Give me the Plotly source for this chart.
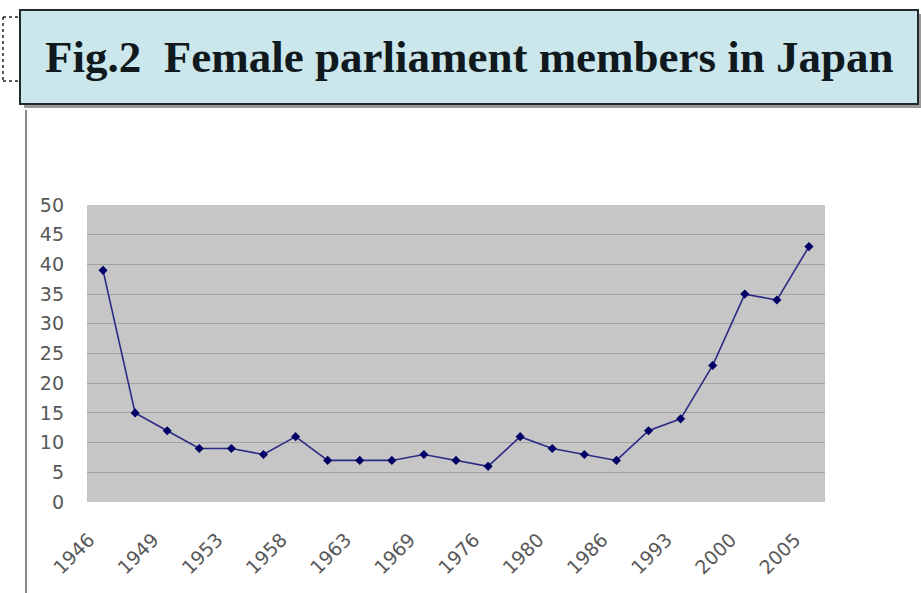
import plotly.graph_objects as go

# Election years (House of Representatives) and number of female members elected
years = ["1946", "1947", "1949", "1952", "1953", "1955", "1958", "1960", "1963",
         "1967", "1969", "1972", "1976", "1979", "1980", "1983", "1986", "1990",
         "1993", "1996", "2000", "2003", "2005"]
members = [39, 15, 12, 9, 9, 8, 11, 7, 7, 7, 8, 7, 6, 11, 9, 8, 7, 12, 14, 23, 35, 34, 43]
shown_labels = years[::2]
y_ticks = list(range(0, 51, 5))

W, H = 921, 593
L, R, T, B = 87, 825, 205, 502


def fx(x):
    return (x - L) / (R - L)


def fy(y):
    return (B - y) / (B - T)


tick_font = dict(family="DejaVu Sans, Noto Sans CJK KR", size=19, color="#585858")

fig = go.Figure()
fig.add_trace(go.Scatter(
    x=years, y=members, mode="lines+markers",
    line=dict(color="#2b2b85", width=1.6),
    marker=dict(symbol="diamond", size=7, color="#000066"),
    hoverinfo="x+y", showlegend=False,
))

shapes = [
    # title box shadow
    dict(type="rect", xref="paper", yref="paper", x0=fx(24), x1=fx(921), y0=fy(108), y1=fy(14),
         fillcolor="#9a9a9a", line=dict(width=0), layer="below"),
    # title box
    dict(type="rect", xref="paper", yref="paper", x0=fx(20), x1=fx(918), y0=fy(104), y1=fy(10),
         fillcolor="#cce7ec", line=dict(color="#1e2a2e", width=2), layer="below"),
    # left frame line
    dict(type="line", xref="paper", yref="paper", x0=fx(26), x1=fx(26), y0=fy(110), y1=fy(593),
         line=dict(color="#8a8a8a", width=2)),
    # dotted bracket on the left
    dict(type="line", xref="paper", yref="paper", x0=fx(3), x1=fx(3), y0=fy(17), y1=fy(81),
         line=dict(color="#222222", width=1.5, dash="dot")),
    dict(type="line", xref="paper", yref="paper", x0=fx(3), x1=fx(20), y0=fy(17), y1=fy(17),
         line=dict(color="#222222", width=1.5, dash="dot")),
    dict(type="line", xref="paper", yref="paper", x0=fx(3), x1=fx(20), y0=fy(81), y1=fy(81),
         line=dict(color="#222222", width=1.5, dash="dot")),
]

fig.update_layout(
    width=W, height=H,
    margin=dict(l=L, r=W - R, t=T, b=H - B, pad=0),
    paper_bgcolor="white",
    plot_bgcolor="#c6c6c6",
    shapes=shapes,
    annotations=[dict(
        text="<b>Fig.2  Female parliament members in Japan</b>",
        xref="paper", yref="paper", x=fx(469), y=fy(57),
        xanchor="center", yanchor="middle", showarrow=False,
        font=dict(family="Liberation Serif, Times New Roman, serif", size=45, color="#101a1e"),
    )],
    xaxis=dict(
        type="category", range=[-0.5, len(years) - 0.5],
        tickmode="array", tickvals=shown_labels, ticktext=shown_labels,
        tickangle=-45, showgrid=False, zeroline=False, showline=False,
        ticks="", tickfont=tick_font, ticklabelstandoff=22, ticklabelshift=-14,
        fixedrange=True,
    ),
    yaxis=dict(
        range=[0, 50], tickvals=y_ticks, showgrid=True, gridcolor="#a2a2a2", gridwidth=1,
        zeroline=False, showline=False, ticks="", ticklabelstandoff=22,
        tickfont=tick_font, fixedrange=True,
    ),
)

fig.write_html("out.html")
